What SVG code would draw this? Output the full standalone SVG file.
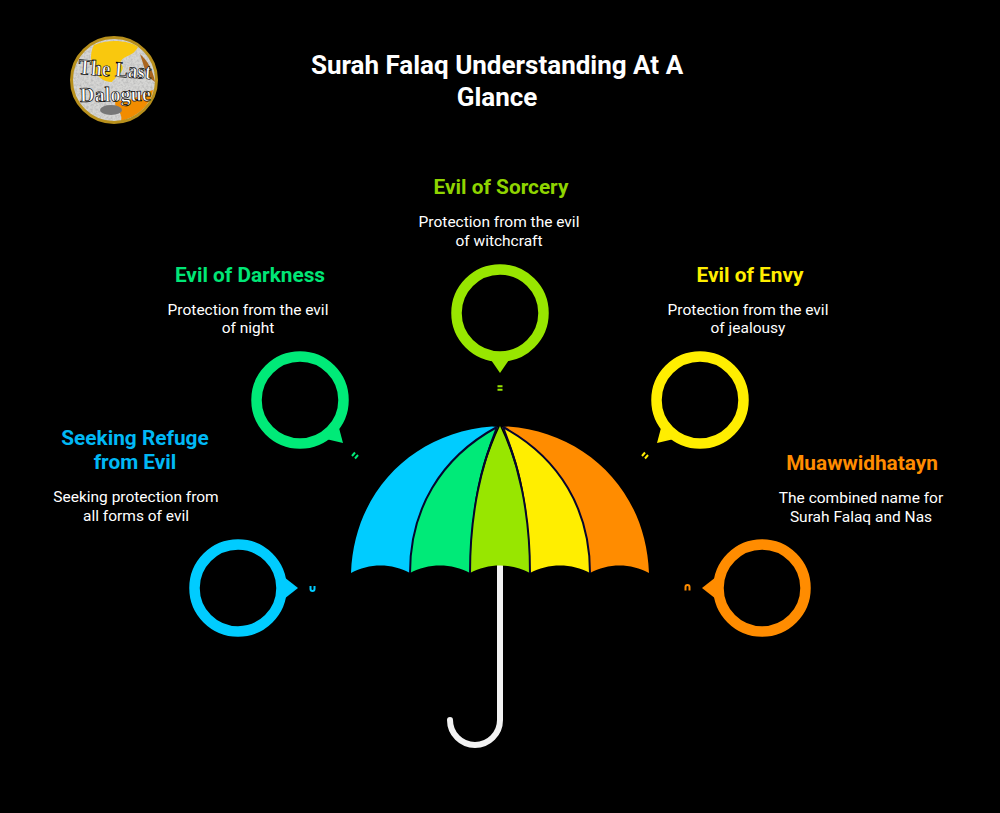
<svg xmlns="http://www.w3.org/2000/svg" width="1000" height="813" viewBox="0 0 1000 813">
<style>
text{font-family:Roboto,"Liberation Sans",sans-serif;text-anchor:middle}
.t{font-size:26px;font-weight:700;fill:#fff}
.h{font-size:20.8px;font-weight:700}
.b{font-size:15.5px;font-weight:400;fill:#fff}
.ring{fill:none;stroke-width:10.5}
.rib{fill:none;stroke:#05052e;stroke-width:2}
.mark{fill:none;stroke-width:2}
.logo{font-family:"Liberation Serif",serif;font-weight:700;fill:#fff;stroke:#000;stroke-width:.7;text-anchor:start}
</style>
<defs>
<filter id="speck" x="-10%" y="-10%" width="120%" height="120%">
<feTurbulence type="fractalNoise" baseFrequency=".45" numOctaves="2" seed="4"/>
<feColorMatrix values="0 0 0 0 .45 0 0 0 0 .45 0 0 0 0 .45 1.800 0 0 0 -.7"/>
<feComposite in2="SourceGraphic" operator="in"/>
<feMerge><feMergeNode in="SourceGraphic"/><feMergeNode/></feMerge>
</filter>
</defs>
<rect width="1000" height="813" fill="#000"/>
<g id="logo">
<circle cx="114" cy="80" r="42" fill="#d6d6d4" filter="url(#speck)"/>
<path d="M94 45C108 39 128 40 138 47C132 58 124 54 120 63C128 70 116 76 112 82C104 82 100 78 94 72C90 62 90 52 94 45Z" fill="#f9c80e"/>
<path d="M116 100C130 104 144 92 153 90C151 104 138 117 121 121C124 112 112 108 116 100Z" fill="#f28c00"/>
<path d="M140 54C147 60 153 70 155 82L147 76Z" fill="#a9651f"/>
<ellipse cx="111" cy="110" rx="11" ry="5" fill="#777"/>
<circle cx="114" cy="80" r="42.500" fill="none" stroke="#b8901c" stroke-width="3"/>
<text class="logo" transform="translate(78 74) rotate(4)" font-size="22" textLength="73" lengthAdjust="spacingAndGlyphs">The Last</text>
<text class="logo" transform="translate(80 102) rotate(-1)" font-size="21" textLength="71" lengthAdjust="spacingAndGlyphs">Dalogue</text>
</g>
<g id="title">
<text class="t" x="497" y="74">Surah Falaq Understanding At A</text>
<text class="t" x="497" y="105.500">Glance</text>
</g>
<g id="umbrella">
<path d="M500 566V720A25 25 0 0 1 450 720" fill="none" stroke="#f2f2f2" stroke-width="6" stroke-linecap="round"/>
<path d="M351 573C354 490 415 432 492 426.500L497 427C440 458 410 510 410 573C392 563 369 563 351 573Z" fill="#00ccff"/>
<path d="M410 573C410 510 440 458 498 427C480 460 470 510 470 573C452 563 428 563 410 573Z" fill="#00ea78"/>
<path d="M470 573C470 510 482 465 500 426C518 465 530 510 530 573C512 563 488 563 470 573Z" fill="#98e600"/>
<path d="M530 573C530 510 520 460 502 427C560 458 590 510 590 573C572 563 548 563 530 573Z" fill="#ffee00"/>
<path d="M590 573C590 510 560 458 503 427L508 426.500C585 432 646 490 649 573C631 563 608 563 590 573Z" fill="#ff8c00"/>
<path class="rib" d="M410 573C410 510 440 458 497 427"/>
<path class="rib" d="M470 573C470 510 482 465 497 427"/>
<path class="rib" d="M530 573C530 510 518 465 503 427"/>
<path class="rib" d="M590 573C590 510 560 458 503 427"/>
</g>
<g id="node-refuge">
<text class="h" x="135" y="444.500" fill="#00b8f5">Seeking Refuge</text>
<text class="h" x="135" y="469" fill="#00b8f5">from Evil</text>
<text class="b" x="136" y="502">Seeking protection from</text>
<text class="b" x="136" y="521">all forms of evil</text>
<circle class="ring" cx="238" cy="588" r="43.500" stroke="#00ccff"/>
<path d="M284 577L298 588L284 599Z" fill="#00ccff"/>
<path class="mark" d="M310.500 586V589A2 2 0 0 0 314.500 589V586" stroke="#00ccff"/>
</g>
<g id="node-darkness">
<text class="h" x="250" y="282" fill="#00e676">Evil of Darkness</text>
<text class="b" x="248" y="315">Protection from the evil</text>
<text class="b" x="248" y="333">of night</text>
<circle class="ring" cx="300" cy="400" r="43.500" stroke="#00ea78"/>
<path d="M339 428L343 443L326 439Z" fill="#00ea78"/>
<path class="mark" d="M352 456L355 452.500M355 458.500L358 455" stroke="#00ea78"/>
</g>
<g id="node-sorcery">
<text class="h" x="501" y="194" fill="#8fd400">Evil of Sorcery</text>
<text class="b" x="499" y="227">Protection from the evil</text>
<text class="b" x="499" y="246">of witchcraft</text>
<circle class="ring" cx="500" cy="313" r="43.500" stroke="#98e600"/>
<path d="M489 357L500 373L511 357Z" fill="#98e600"/>
<path class="mark" d="M497.500 386.300H502.500M497.500 389.700H502.500" stroke="#98e600"/>
</g>
<g id="node-envy">
<text class="h" x="750" y="282" fill="#ffee00">Evil of Envy</text>
<text class="b" x="748" y="315">Protection from the evil</text>
<text class="b" x="748" y="333">of jealousy</text>
<circle class="ring" cx="700" cy="400" r="43.500" stroke="#ffee00"/>
<path d="M661 428L657 443L674 439Z" fill="#ffee00"/>
<path class="mark" d="M645 452.500L642 456M648 455L645 458.500" stroke="#ffee00"/>
</g>
<g id="node-muawwidhatayn">
<text class="h" x="862" y="470" fill="#ff8c00">Muawwidhatayn</text>
<text class="b" x="861" y="503">The combined name for</text>
<text class="b" x="861" y="522">Surah Falaq and Nas</text>
<circle class="ring" cx="762" cy="588" r="43.500" stroke="#ff8c00"/>
<path d="M716 577L702 588L716 599Z" fill="#ff8c00"/>
<path class="mark" d="M685.500 590.500V587A2 2 0 0 1 689.500 587V590.500" stroke="#ff8c00"/>
</g>
</svg>
